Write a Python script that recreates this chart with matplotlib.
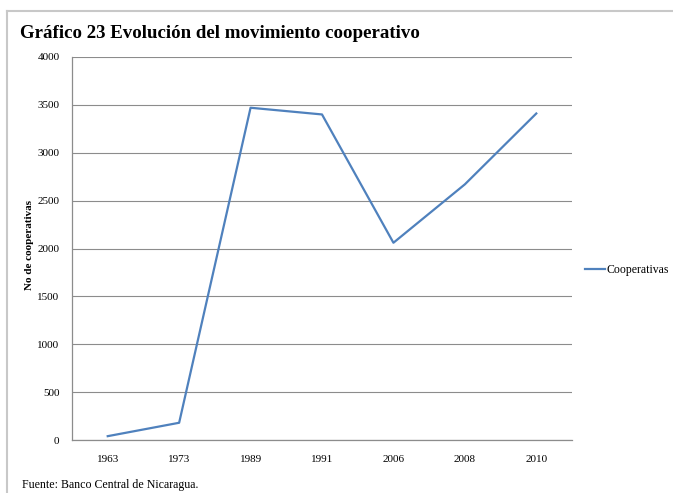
import numpy as np
import matplotlib
matplotlib.use("Agg")
import matplotlib.pyplot as plt
from matplotlib.lines import Line2D

plt.rcParams['font.family'] = ['Liberation Serif', 'DejaVu Serif']

# datos
years = ['1963', '1973', '1989', '1991', '2006', '2008', '2010']
cooperativas = [40, 180, 3470, 3400, 2060, 2670, 3410]
yticks = [0, 500, 1000, 1500, 2000, 2500, 3000, 3500, 4000]

W, H = 673, 493
fig = plt.figure(figsize=(W / 100, H / 100), dpi=100)
ax = fig.add_axes([72 / W, 1 - 440 / H, 500 / W, 383 / H])

x = np.arange(len(years))
ax.plot(x, cooperativas, color='#4F81BD', linewidth=1.6, label='Cooperativas')

ax.set_xlim(-0.5, len(years) - 0.5)
ax.set_ylim(0, 4000)
ax.set_xticks(x)
ax.set_xticklabels(years, fontsize=8)
ax.set_yticks(yticks)
ax.set_yticklabels([str(v) for v in yticks], fontsize=8)
ax.tick_params(length=0, pad=11, axis='x')
ax.tick_params(length=0, pad=9, axis='y')
ax.grid(axis='y', color='#8c8c8c', linewidth=0.8)
ax.set_axisbelow(True)
for s in ['top', 'right']:
    ax.spines[s].set_visible(False)
for s in ['left', 'bottom']:
    ax.spines[s].set_color('#8c8c8c')
    ax.spines[s].set_linewidth(0.9)

ax.set_ylabel('No de cooperativas', fontsize=8, fontweight='bold', labelpad=1)
ax.yaxis.set_label_coords(-38 / 500, 0.508)

fig.legend(loc='center left', bbox_to_anchor=(585 / W, 1 - 270 / H), frameon=False,
           fontsize=8.5, handlelength=1.7, handletextpad=0.1, borderaxespad=0,
           borderpad=0)

fig.text(20 / W, 1 - 33 / H, 'Gráfico 23 Evolución del movimiento cooperativo',
         fontsize=13.6, fontweight='bold', va='center', ha='left')
fig.text(22 / W, 1 - 485 / H, 'Fuente: Banco Central de Nicaragua.',
         fontsize=8.6, va='center', ha='left')

# marco gris
fig.add_artist(Line2D([7 / W, 1], [1 - 11 / H, 1 - 11 / H], color='#c8c8c8', linewidth=1.5))
fig.add_artist(Line2D([7 / W, 7 / W], [0, 1 - 11 / H], color='#c8c8c8', linewidth=1.5))

fig.savefig('out.png', dpi=100)
